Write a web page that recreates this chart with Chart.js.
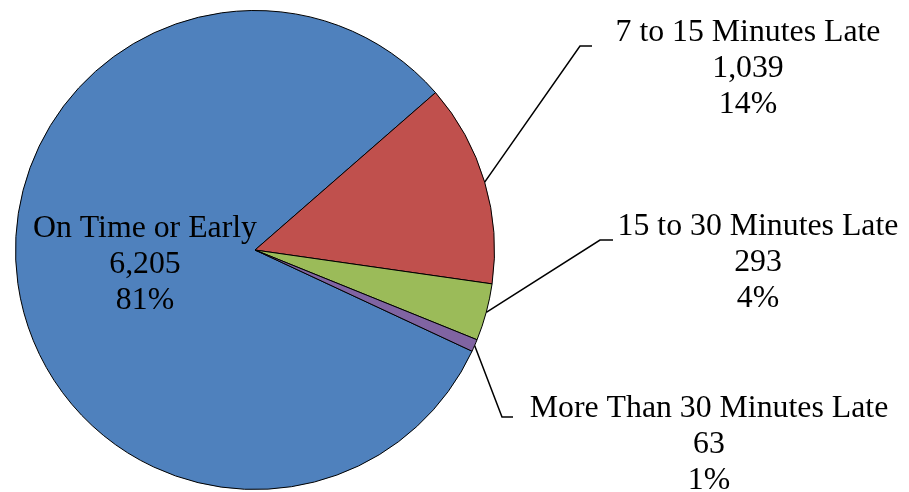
<!DOCTYPE html>
<html>
<head>
<meta charset="utf-8">
<script src="https://cdn.jsdelivr.net/npm/chart.js@4/dist/chart.umd.min.js"></script>
<style>
  html, body { margin: 0; padding: 0; background: #fff; }
  #wrap { width: 909px; height: 492px; position: relative; }
</style>
</head>
<body>
<div id="wrap"><canvas id="pie"></canvas></div>
<script>
// data
const categories = ['On Time or Early', '7 to 15 Minutes Late', '15 to 30 Minutes Late', 'More Than 30 Minutes Late'];
const counts = [6205, 1039, 293, 63];
const countLabels = ['6,205', '1,039', '293', '63'];
const percentLabels = ['81%', '14%', '4%', '1%'];

const sliceColors = ['#4F81BD', '#C0504D', '#9BBB59', '#8064A2'];

// where each label block sits (centre x, first baseline y) and the leader elbow
const labelSpots = [
  { x: 145, y: 237, elbow: null },
  { x: 748, y: 41, elbow: [[580, 46], [592, 46]] },
  { x: 758, y: 235, elbow: [[600, 240], [613, 240]] },
  { x: 709, y: 417, elbow: [[502, 417], [513, 417]] }
];
const lineGap = 36;

const sliceLabels = {
  id: 'sliceLabels',
  afterDatasetsDraw(chart) {
    const ctx = chart.ctx;
    const arcs = chart.getDatasetMeta(0).data;
    ctx.save();
    arcs.forEach((arc, i) => {
      const spot = labelSpots[i];
      if (spot.elbow) {
        const p = arc.getProps(['x', 'y', 'startAngle', 'endAngle', 'outerRadius'], true);
        const mid = (p.startAngle + p.endAngle) / 2;
        const ax = p.x + Math.cos(mid) * p.outerRadius;
        const ay = p.y + Math.sin(mid) * p.outerRadius;
        ctx.beginPath();
        ctx.moveTo(ax, ay);
        spot.elbow.forEach(pt => ctx.lineTo(pt[0], pt[1]));
        ctx.strokeStyle = '#000';
        ctx.lineWidth = 1.5;
        ctx.stroke();
      }
      ctx.fillStyle = '#000';
      ctx.font = '31.8px "Liberation Serif", "Times New Roman", serif';
      ctx.textAlign = 'center';
      ctx.textBaseline = 'alphabetic';
      const lines = [categories[i], countLabels[i], percentLabels[i]];
      lines.forEach((t, k) => ctx.fillText(t, spot.x, spot.y + k * lineGap));
    });
    ctx.restore();
  }
};

new Chart(document.getElementById('pie'), {
  type: 'pie',
  data: {
    labels: categories,
    datasets: [{
      data: counts,
      backgroundColor: sliceColors,
      borderColor: '#000',
      borderWidth: 1
    }]
  },
  options: {
    responsive: true,
    maintainAspectRatio: false,
    animation: false,
    rotation: 115,
    layout: { padding: { left: 15, right: 414, top: 10, bottom: 2 } },
    plugins: {
      legend: { display: false },
      tooltip: { enabled: false }
    }
  },
  plugins: [sliceLabels]
});
</script>
</body>
</html>
